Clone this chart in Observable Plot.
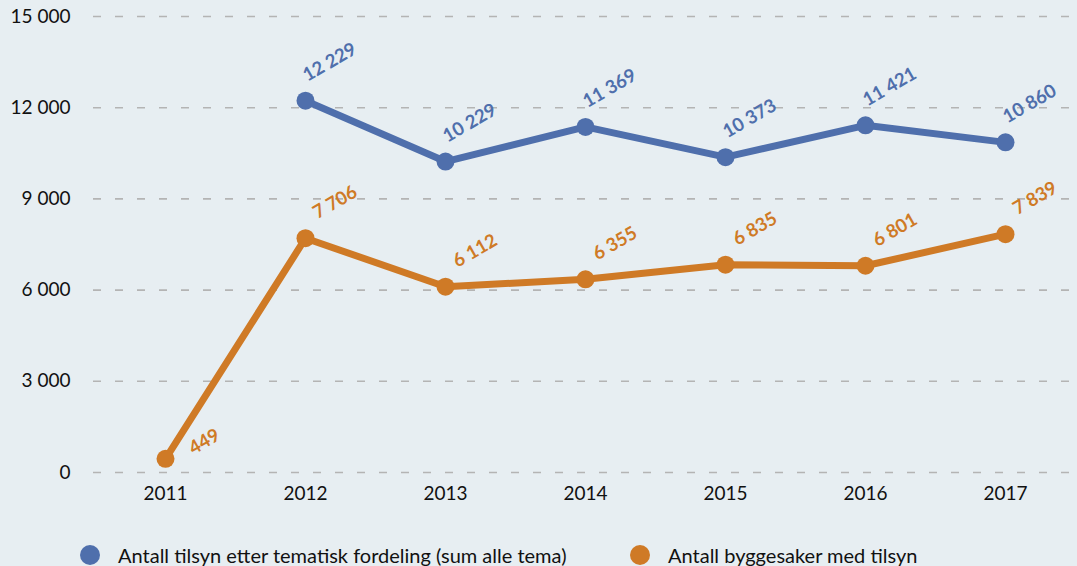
<!DOCTYPE html>
<html><head><meta charset="utf-8">
<script src="https://cdn.jsdelivr.net/npm/d3@7"></script>
<script src="https://cdn.jsdelivr.net/npm/@observablehq/plot@0.6"></script>
<style>
html,body{margin:0;padding:0;background:#e7eef2;}
body{width:1077px;height:566px;overflow:hidden;font-family:Lato,"Open Sans",sans-serif;}
#legend{position:relative;height:56px;font-size:20px;color:#111;}
.li{position:absolute;top:34px;display:flex;align-items:center;height:22px;}
.dot{width:20px;height:20px;border-radius:50%;margin-right:18px;}
</style></head><body>
<div id="chart"></div>
<div id="legend"></div>
<script>
const years = ["2011","2012","2013","2014","2015","2016","2017"];
const seriesNames = ["Antall tilsyn etter tematisk fordeling (sum alle tema)", "Antall byggesaker med tilsyn"];
const tilsynValues = [null, 12229, 10229, 11369, 10373, 11421, 10860];
const byggesakerValues = [449, 7706, 6112, 6355, 6835, 6801, 7839];
const yTicks = [0, 3000, 6000, 9000, 12000, 15000];
const colors = ["#4f6fac", "#cf7a26"];

const fmt = d3.formatLocale({decimal: ",", thousands: " ", grouping: [3]}).format(",d");

const data = [];
years.forEach((y, i) => {
  if (tilsynValues[i] != null) data.push({year: y, value: tilsynValues[i], series: seriesNames[0]});
  if (byggesakerValues[i] != null) data.push({year: y, value: byggesakerValues[i], series: seriesNames[1]});
});
const blueLabels = data.filter(d => d.series === seriesNames[0]);
const orangeLabels = data.filter(d => d.series === seriesNames[1] && d.year !== "2011");
const special = data.filter(d => d.series === seriesNames[1] && d.year === "2011");

const labelOpts = {x: "year", y: "value", text: d => fmt(d.value), fill: "series", rotate: -30, textAnchor: "start", fontWeight: "bold", fontSize: 18.5};

const chart = Plot.plot({
  width: 1077,
  height: 510,
  marginLeft: 93,
  marginRight: 0,
  marginTop: 16,
  marginBottom: 38,
  style: {background: "#e7eef2", fontFamily: "Lato, 'Open Sans', sans-serif", fontSize: "19px", color: "#111"},
  x: {type: "point", domain: years, padding: 0.5, label: null, tickSize: 0, tickPadding: 14},
  y: {domain: [0, 15000], ticks: yTicks, tickFormat: fmt, label: null, tickSize: 0, tickPadding: 23},
  color: {domain: seriesNames, range: colors},
  marks: [
    Plot.ruleY(yTicks, {stroke: "#b4b4b4", strokeWidth: 1.6, strokeDasharray: "8,14"}),
    Plot.line(data, {x: "year", y: "value", z: "series", stroke: "series", strokeWidth: 7, strokeLinejoin: "round"}),
    Plot.dot(data, {x: "year", y: "value", fill: "series", r: 9}),
    Plot.text(blueLabels, {...labelOpts, dx: -1, dy: -24}),
    Plot.text(orangeLabels, {...labelOpts, dx: 9, dy: -24}),
    Plot.text(special, {...labelOpts, dx: 25, dy: -9})
  ]
});
document.getElementById("chart").appendChild(chart);

const legend = document.getElementById("legend");
const lx = [80, 630];
seriesNames.forEach((n, i) => {
  const el = document.createElement("div");
  el.className = "li";
  el.style.left = lx[i] + "px";
  el.innerHTML = `<span class="dot" style="background:${colors[i]}"></span><span>${n}</span>`;
  legend.appendChild(el);
});
</script>
</body></html>
